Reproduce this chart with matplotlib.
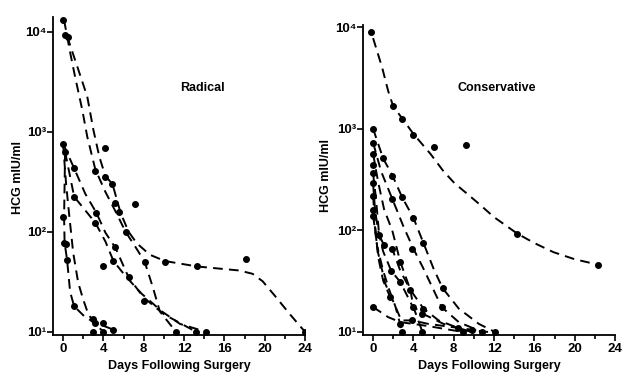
import matplotlib
matplotlib.use("Agg")
import matplotlib.pyplot as plt
from matplotlib.ticker import FixedLocator, MultipleLocator, NullLocator

plt.rcParams['font.family'] = ['Liberation Sans', 'DejaVu Sans']

# ---- Radical group: dashed curves (days, HCG mIU/ml) ----
radical_curves = [
    ([0.1, 0.7, 1.2, 1.9, 2.4, 3.2, 4.2, 5.2, 6.2, 7.2, 8.1, 8.9, 9.6, 11.2],
     [13000, 6200, 3500, 1660, 890, 420, 250, 160, 100, 70, 50, 28, 16, 10]),
    ([0.4, 1.5, 2.4, 3.0, 3.6, 4.2, 4.9, 5.7, 6.5, 7.3, 8.6, 10.1, 13.3, 17.5,
      18.8, 19.8, 21.0, 22.5, 24.0],
     [9000, 4200, 2240, 1050, 560, 360, 300, 155, 100, 77, 59, 51, 45, 41,
      38, 32, 23, 15, 10]),
    ([0.0, 1.1, 2.2, 3.3, 4.2, 5.2, 6.5, 8.0, 10.0, 13.2],
     [760, 430, 240, 155, 98, 69, 35, 22, 15, 10]),
    ([0.2, 1.1, 3.2, 4.2, 5.0, 6.2, 7.8, 9.8, 11.6, 14.2],
     [630, 224, 123, 80, 51, 36, 24, 16, 12, 10]),
    ([0.2, 0.1, 0.15, 0.4, 0.7, 1.1, 2.2, 3.2, 4.0, 5.0],
     [630, 140, 78, 52, 25, 18, 14, 12.3, 11.5, 10.5]),
    ([0.0, 0.3, 0.6, 1.0, 1.5, 2.0, 2.5, 3.2, 4.0],
     [760, 300, 150, 62, 31, 21, 15, 12, 10]),
]
radical_dot_days = [0.0, 0.2, 0.5, 3.2, 4.2, 4.2, 4.9, 5.2, 5.5, 6.2, 7.1, 8.1, 10.1,
                    13.3, 18.1, 24.0, 8.0, 11.2, 13.2, 14.2, 0.0, 0.2, 1.1, 1.1, 3.3,
                    3.2, 5.2, 5.0, 4.0, 6.5, 0.0, 0.1, 0.3, 0.4, 1.1, 3.0, 3.2, 4.0,
                    3.0, 4.0, 5.0]
radical_dot_hcg = [13000, 9200, 8800, 405, 690, 355, 300, 195, 158, 100, 190, 50, 50,
                   46, 54, 10, 20.5, 10, 10, 10, 760, 630, 430, 224, 155,
                   123, 70, 51, 45, 35, 140, 78, 75, 52, 18, 13.5, 12.3, 12.3,
                   10, 10, 10.5]

# ---- Conservative group ----
conservative_curves = [
    ([0.0, 0.9, 1.5, 2.0, 2.9, 4.0, 5.7, 7.0, 8.1, 9.2, 10.3, 12.0, 14.3, 16.0,
      17.9, 20.0, 22.3],
     [7800, 4000, 2350, 1660, 1260, 890, 565, 380, 290, 235, 190, 135, 93, 75,
      61, 52, 46]),
    ([0.0, 1.0, 1.9, 2.9, 4.0, 5.0, 6.0, 6.9, 8.5, 10.5, 12.1],
     [1000, 510, 350, 210, 133, 75, 42, 27, 17, 12, 10]),
    ([0.0, 0.8, 1.9, 3.0, 4.0, 5.0, 6.8, 8.5, 10.8],
     [730, 380, 205, 110, 66, 42, 17.6, 12.5, 10]),
    ([0.0, 0.5, 1.1, 1.9, 2.7, 3.7, 5.0, 6.5, 8.4, 9.8],
     [570, 300, 160, 100, 49, 26, 17, 13, 11, 10]),
    ([0.0, 0.3, 0.6, 1.1, 1.9, 2.7, 3.7, 4.0, 4.9],
     [365, 200, 90, 71, 66, 40, 26, 17.6, 10]),
    ([0.0, 0.2, 0.5, 1.0, 1.8, 2.7, 3.9, 5.0, 7.0, 9.8],
     [290, 157, 100, 62, 40, 31, 18, 15, 12, 10]),
    ([0.0, 0.2, 0.5, 1.0, 1.7],
     [220, 110, 55, 32, 22]),
    ([0.0, 0.4, 1.0, 1.6, 2.2, 2.9],
     [157, 70, 40, 26, 18, 10]),
    ([0.0, 0.5, 1.2, 2.0, 2.8, 3.9, 5.5, 8.4, 11.4],
     [140, 60, 30, 20, 13, 13, 12, 11, 10]),
    ([0.0, 1.5, 2.7, 5.3, 8.9],
     [17.6, 14, 12.5, 11.5, 10]),
]
conservative_dot_days = [-0.2, 2.0, 2.9, 4.0, 6.0, 9.2, 14.3, 22.3,
                         0.0, 0.0, 0.0, 0.0, 0.0, 0.0, 0.0, 0.0, 0.0, 0.0,
                         1.0, 1.9, 1.9, 2.9, 4.0, 0.6, 1.1, 1.9, 3.9, 5.0,
                         6.9, 6.8, 1.7, 3.7, 4.0, 4.9, 5.0, 2.7, 1.8, 2.7,
                         2.9, 4.9, 3.9, 2.7, 8.4, 8.9, 9.8, 10.8, 12.1]
conservative_dot_hcg = [8900, 1660, 1260, 870, 660, 700, 93, 46,
                        1000, 730, 570, 435, 365, 290, 220, 157, 140, 17.6,
                        510, 340, 205, 215, 133, 90, 71, 66, 66, 75,
                        27, 17.6, 22, 26, 17.6, 15, 17, 31, 40, 49,
                        10, 10, 13, 12, 11, 10, 10.5, 10, 10]

fig = plt.figure(figsize=(6.28, 3.76), dpi=100)
ax1 = fig.add_axes([53 / 628, 41 / 376, 252 / 628, 318 / 376])
ax2 = fig.add_axes([363 / 628, 41 / 376, 252 / 628, 310 / 376])


def draw_panel(ax, curves, dot_days, dot_hcg, ylim):
    for days, hcg in curves:
        ax.plot(days, hcg, color='black', lw=1.4, dashes=(5, 3.2),
                dash_capstyle='butt', dash_joinstyle='round')
    ax.plot(dot_days, dot_hcg, 'o', color='black', ms=4.0, ls='none')
    ax.set_yscale('log')
    ax.set_xlim(-1, 24)
    ax.set_ylim(*ylim)
    for side in ['top', 'right']:
        ax.spines[side].set_visible(False)
    for side in ['left', 'bottom']:
        ax.spines[side].set_linewidth(1.3)
    ax.xaxis.set_major_locator(MultipleLocator(4))
    ax.xaxis.set_minor_locator(MultipleLocator(2))
    ax.yaxis.set_major_locator(FixedLocator([10, 100, 1000, 10000]))
    ax.yaxis.set_minor_locator(NullLocator())
    ax.set_yticklabels(['10¹', '10²', '10³', '10⁴'])
    ax.tick_params(axis='x', which='major', length=4, width=1.2, labelsize=9.5, pad=2)
    ax.tick_params(axis='x', which='minor', length=3, width=1.2)
    ax.tick_params(axis='y', length=4, width=1.2, labelsize=9.5, pad=1)
    for lab in ax.get_xticklabels() + ax.get_yticklabels():
        lab.set_fontweight('bold')
    ax.set_xlabel('Days Following Surgery', fontsize=9, fontweight='bold', labelpad=3)


draw_panel(ax1, radical_curves, radical_dot_days, radical_dot_hcg, (9.3, 14000))
draw_panel(ax2, conservative_curves, conservative_dot_days, conservative_dot_hcg, (9.34, 10500))

fig.text(18 / 628, 1 - 178 / 376, 'HCG mIU/ml', rotation=90, ha='center', va='center',
         fontsize=9, fontweight='bold')
fig.text(326 / 628, 1 - 175 / 376, 'HCG mIU/ml', rotation=90, ha='center', va='center',
         fontsize=9, fontweight='bold')
fig.text(202 / 628, 1 - 88 / 376, 'Radical', ha='center', va='center', fontsize=9,
         fontweight='bold')
fig.text(497 / 628, 1 - 88 / 376, 'Conservative', ha='center', va='center', fontsize=9,
         fontweight='bold')

fig.savefig('out.png', dpi=100)
